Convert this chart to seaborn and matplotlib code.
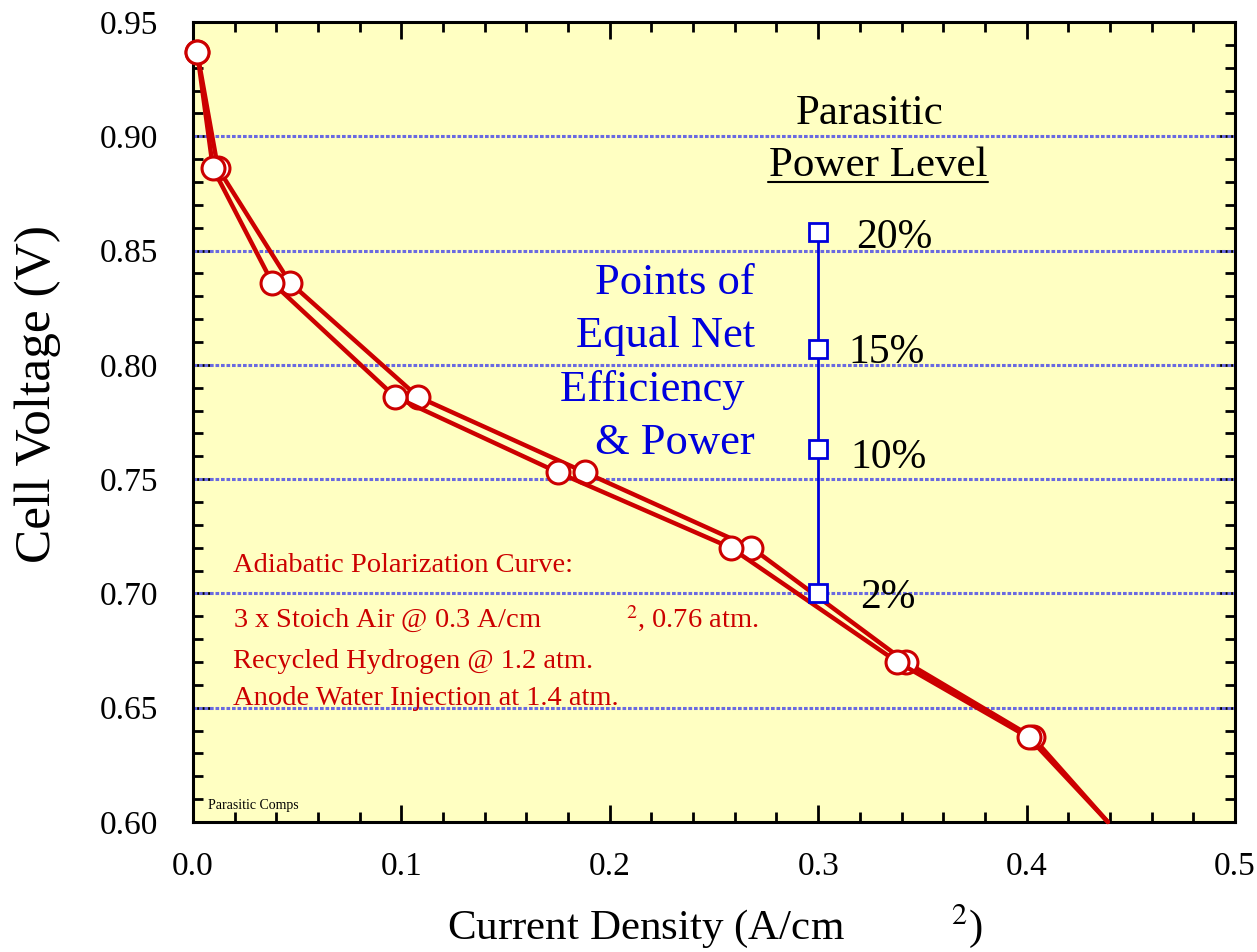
import numpy as np
import pandas as pd
import seaborn as sns
import matplotlib.pyplot as plt
from matplotlib.ticker import MultipleLocator, FormatStrFormatter

# polarization curves (two nearly overlapping runs)
current_a = [0.002, 0.0096, 0.038, 0.097, 0.175, 0.258, 0.338, 0.401, 0.439]
current_b = [0.002, 0.012, 0.0465, 0.108, 0.188, 0.268, 0.342, 0.403, 0.439]
voltage = [0.937, 0.886, 0.836, 0.786, 0.753, 0.720, 0.670, 0.637, 0.600]

# points of equal net efficiency & power
eq_current = [0.3, 0.3, 0.3, 0.3]
eq_voltage = [0.700, 0.763, 0.807, 0.858]
eq_labels = ['2%', '10%', '15%', '20%']

note_lines = ['Adiabatic Polarization Curve:',
              '3 x Stoich Air @ 0.3 A/cm            $^{2}$, 0.76 atm.',
              'Recycled Hydrogen @ 1.2 atm.',
              'Anode Water Injection at 1.4 atm.']

sns.set_theme(style='ticks')
plt.rcParams['font.family'] = ['Liberation Serif', 'DejaVu Serif']
plt.rcParams['mathtext.fontset'] = 'stix'
plt.rcParams['text.color'] = 'black'
plt.rcParams['axes.labelcolor'] = 'black'

RED = '#CC0000'
BLUE = '#0000DD'

fig = plt.figure(figsize=(12.57, 9.52), dpi=100)
ax = fig.add_axes([0.1535, 0.1366, 0.829, 0.8403])
ax.set_facecolor('#FFFFC2')

# gridlines
for yv in [0.65, 0.70, 0.75, 0.80, 0.85, 0.90]:
    ax.axhline(yv, color='#6A6AE0', lw=2.2, ls=(0, (1.2, 0.6)), zorder=1)

df_a = pd.DataFrame({'j': current_a, 'v': voltage})
df_b = pd.DataFrame({'j': current_b, 'v': voltage})
for df in [df_b, df_a]:
    sns.lineplot(data=df, x='j', y='v', sort=False, estimator=None, ax=ax,
                 color=RED, lw=3.2, marker='o', markersize=16.5,
                 markerfacecolor='white', markeredgecolor=RED,
                 markeredgewidth=2.2,
                 markevery=list(range(len(voltage) - 1)), zorder=3,
                 clip_on=False)

df_eq = pd.DataFrame({'j': eq_current, 'v': eq_voltage})
sns.lineplot(data=df_eq, x='j', y='v', sort=False, estimator=None, ax=ax,
             color=BLUE, lw=2, marker='s', markersize=13,
             markerfacecolor='white', markeredgecolor=BLUE,
             markeredgewidth=2, zorder=4)

offsets = [(30, -3), (23, -6), (22, -3), (27, -4)]
for x, y, lab, off in zip(eq_current, eq_voltage, eq_labels, offsets):
    ax.annotate(lab, (x, y), xytext=off, textcoords='offset points',
                fontsize=30, va='center', ha='left', color='black')

ax.text(0.3249, 0.9054, 'Parasitic', fontsize=31, ha='center', va='baseline')
ax.text(0.3287, 0.8826, 'Power Level', fontsize=31, ha='center',
        va='baseline')
ax.plot([0.2759, 0.3815], [0.8802, 0.8802], color='black', lw=1.5)

blue_text = 'Points of\nEqual Net\nEfficiency \n& Power'
ax.text(0.2697, 0.8445, blue_text, fontsize=32, color=BLUE, ha='right',
        va='top', linespacing=1.43)

note_y = [0.7094, 0.6849, 0.6674, 0.6512]
for line, yv in zip(note_lines, note_y):
    ax.text(0.019, yv, line, fontsize=20.5, color=RED, va='baseline')

ax.text(0.007, 0.6055, 'Parasitic Comps', fontsize=10, color='black')

ax.set_xlim(0, 0.5)
ax.set_ylim(0.60, 0.95)
ax.xaxis.set_major_locator(MultipleLocator(0.1))
ax.xaxis.set_minor_locator(MultipleLocator(0.02))
ax.yaxis.set_major_locator(MultipleLocator(0.05))
ax.yaxis.set_minor_locator(MultipleLocator(0.01))
ax.xaxis.set_major_formatter(FormatStrFormatter('%.1f'))
ax.yaxis.set_major_formatter(FormatStrFormatter('%.2f'))
ax.tick_params(which='both', direction='in', top=True, right=True,
               colors='black', labelsize=24, width=2)
ax.tick_params(which='major', length=12)
ax.tick_params(which='minor', length=7)
ax.tick_params(axis='x', which='major', pad=21)
ax.tick_params(axis='y', which='major', pad=25)
for sp in ax.spines.values():
    sp.set_linewidth(2.2)
    sp.set_color('black')

ax.set_xlabel('Current Density (A/cm          $^{2}$)', fontsize=31)
ax.set_ylabel('Cell Voltage (V)', fontsize=37)
ax.xaxis.set_label_coords(0.5005, -0.1)
ax.yaxis.set_label_coords(-0.127, 0.535)

fig.savefig('out.png', dpi=100, facecolor='white')
